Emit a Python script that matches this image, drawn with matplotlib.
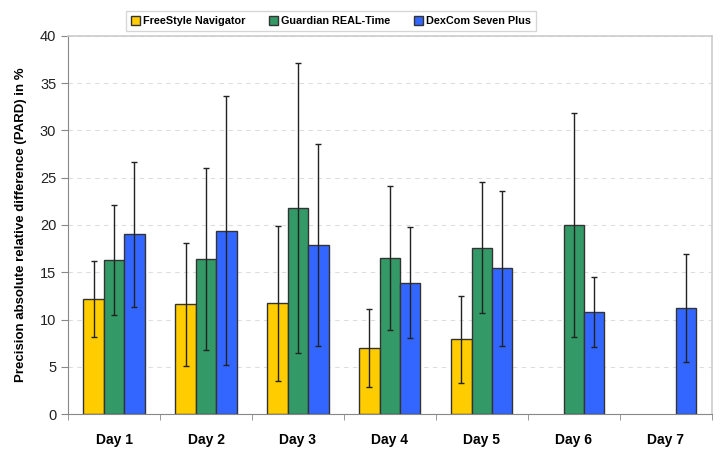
import numpy as np
import matplotlib.pyplot as plt
from matplotlib.patches import Patch

plt.rcParams["font.family"] = ["Liberation Sans", "DejaVu Sans"]

days = ["Day 1", "Day 2", "Day 3", "Day 4", "Day 5", "Day 6", "Day 7"]
series = ["FreeStyle Navigator", "Guardian REAL-Time", "DexCom Seven Plus"]

# mean PARD and SD per day (nan = no data)
navigator = [12.2, 11.6, 11.7, 7.0, 7.9, np.nan, np.nan]
navigator_sd = [4.0, 6.5, 8.2, 4.1, 4.6, np.nan, np.nan]
guardian = [16.3, 16.4, 21.8, 16.5, 17.6, 20.0, np.nan]
guardian_sd = [5.8, 9.6, 15.3, 7.6, 6.9, 11.8, np.nan]
dexcom = [19.0, 19.4, 17.9, 13.9, 15.4, 10.8, 11.2]
dexcom_sd = [7.7, 14.2, 10.7, 5.9, 8.2, 3.7, 5.7]

colors = ["#FFCC00", "#339966", "#3366FF"]

fig = plt.figure(figsize=(7.24, 4.54), dpi=100)
ax = fig.add_axes([0.094, 0.088, 0.889, 0.833])

x = np.arange(len(days))
w = 0.222
for i, (vals, sd) in enumerate([(navigator, navigator_sd), (guardian, guardian_sd), (dexcom, dexcom_sd)]):
    pos = x + (i - 1) * w
    ax.bar(pos, vals, w, color=colors[i], edgecolor="#333333", linewidth=1.0, zorder=2)
    ax.errorbar(pos, vals, yerr=sd, fmt="none", ecolor="#222222", elinewidth=1.0,
                capsize=2.5, capthick=1.0, zorder=3)

ax.set_xlim(-0.5, len(days) - 0.5)
ax.set_ylim(0, 40)
ax.set_yticks(range(0, 41, 5))
ax.set_xticks(x)
ax.set_xticklabels(days, fontsize=10, fontweight="bold")
ax.set_xticks(np.arange(-0.5, len(days), 1), minor=True)
ax.tick_params(axis="x", which="major", length=0, pad=14)
ax.tick_params(axis="x", which="minor", length=4, color="#888888", direction="out")
ax.tick_params(axis="y", labelsize=10.5, length=5, color="#888888", direction="out",
               labelcolor="#222222")
ax.grid(axis="y", linestyle=(0, (4, 4)), color="#dddddd", linewidth=0.8, zorder=0)

for s in ["left", "bottom"]:
    ax.spines[s].set_color("#888888")
for s in ["top", "right"]:
    ax.spines[s].set_color("#cccccc")
    ax.spines[s].set_linewidth(1.2)

ax.set_ylabel("Precision absolute relative difference (PARD) in %", fontsize=9.5,
              fontweight="bold", labelpad=9)

handles = [Patch(facecolor=c, edgecolor="#333333", label=l) for c, l in zip(colors, series)]
leg = fig.legend(handles=handles, loc="center", bbox_to_anchor=(0.457, 0.953), ncol=3,
                 prop={"weight": "bold", "size": 7.8}, frameon=True, fancybox=False,
                 handlelength=0.8, handleheight=0.8, handletextpad=0.3, columnspacing=2.2,
                 borderpad=0.45)
leg.get_frame().set_edgecolor("#cccccc")
leg.get_frame().set_linewidth(1.0)

fig.savefig("out.png", dpi=100)
